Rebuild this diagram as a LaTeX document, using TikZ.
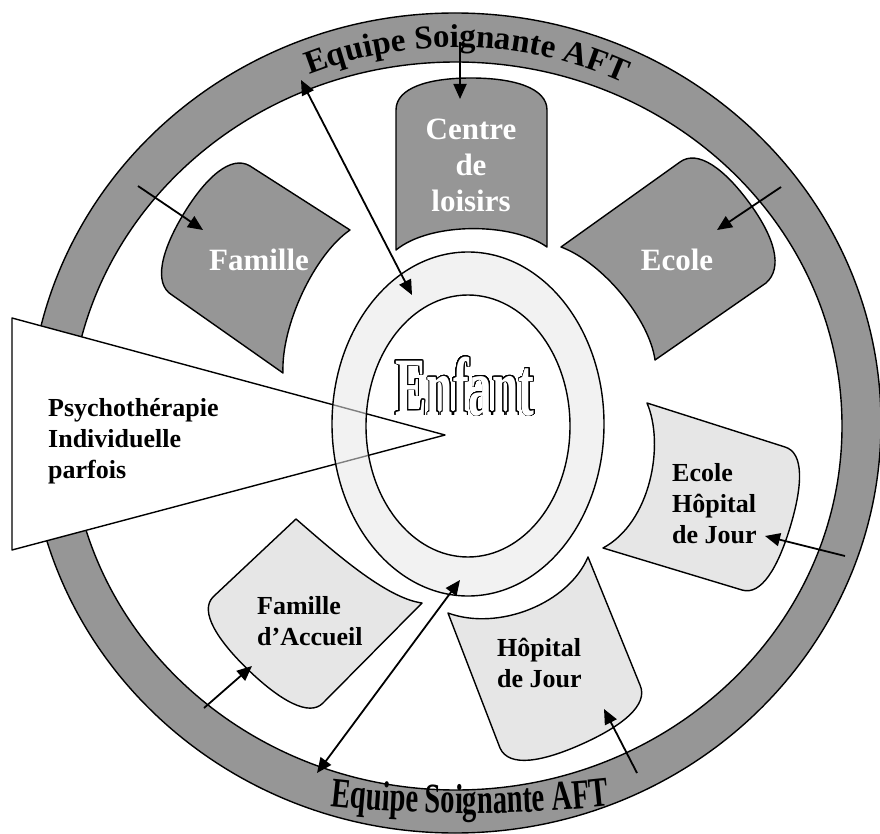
\documentclass[tikz,border=0pt]{standalone}
\usepackage{fontspec}
\setmainfont{Liberation Serif}
\newfontfamily\condserif{Liberation Serif}[FakeStretch=0.68]
\newfontfamily\enfantserif{Liberation Serif}[FakeStretch=0.57]
\usepackage{contour}
\contourlength{0.9pt}
\contournumber{32}
\usetikzlibrary{arrows.meta,decorations.text}
\definecolor{darkgr}{RGB}{150,150,150}
\definecolor{lightgr}{RGB}{230,230,230}
\definecolor{bandgr}{RGB}{232,232,232}
\begin{document}
\begin{tikzpicture}[x=1pt,y=-1pt,
  outl/.style={draw=black, line width=1.4pt, line join=round},
  darkpetal/.style={outl, fill=darkgr},
  lightpetal/.style={outl, fill=lightgr},
  darklabel/.style={text=white, font=\bfseries\fontsize{31}{36}\selectfont, align=center, inner sep=0pt},
  lightlabel/.style={text=black, font=\bfseries\fontsize{26}{31}\selectfont, align=left, inner sep=0pt},
  arr/.style={line width=1.8pt, -{Triangle[length=15pt,width=13pt]}},
  darr/.style={line width=1.8pt, {Triangle[length=15pt,width=13pt]}-{Triangle[length=15pt,width=13pt]}},
]
\useasboundingbox (0,0) rectangle (880,834);

% outer ring
\fill[darkgr, even odd rule] (455,423) ellipse[x radius=426, y radius=410]
  (456,426) ellipse[x radius=386, y radius=364];
\draw[outl] (455,423) ellipse[x radius=426, y radius=410];
\draw[outl] (456,426) ellipse[x radius=386, y radius=364];

% ring texts
\path[decorate, decoration={text along path, text align=center,
  text={|\bfseries\fontsize{33}{33}\selectfont|Equipe Soignante AFT}}]
  (457,424) ++(236.5:392 and 377) arc[start angle=236.5, end angle=306.5, x radius=392, y radius=377];
\path[decorate, decoration={text along path, text align=center,
  text={|\condserif\bfseries\fontsize{42}{42}\selectfont|Equipe Soignante AFT}}]
  (300,802) .. controls (400,817) and (540,817) .. (640,802);

% petals
\draw[darkpetal] (396,250) -- (396,110) .. controls (396,88) and (428,78) .. (471,78)
  .. controls (514,78) and (547,88) .. (547,110) -- (547,247)
  .. controls (512,222) and (430,222) .. (396,250) -- cycle;
\draw[darkpetal] (283,373) -- (172,295) .. controls (153.2,283.6) and (161.3,250.7) .. (183.6,213.9)
  .. controls (205.9,177.1) and (231.2,154.6) .. (250,166) -- (350,230)
  .. controls (314.4,254.4) and (280.9,325.8) .. (283,373) -- cycle;
\draw[darkpetal] (561,247) -- (680,162) .. controls (697.8,149.1) and (724.6,168.9) .. (749.9,203.7)
  .. controls (775.2,238.5) and (783,268) .. (766,283) -- (655,360)
  .. controls (649.3,318.8) and (602.3,262.3) .. (561,247) -- cycle;
\draw[lightpetal] (647,403) -- (785,447) .. controls (804.2,452.8) and (802.7,485.4) .. (790.3,526.6)
  .. controls (777.9,567.8) and (761.2,595.8) .. (742,590) -- (603,548)
  .. controls (650.4,522.7) and (665,445) .. (647,403) -- cycle;
\draw[lightpetal] (588,557) -- (640,685) .. controls (649,705.1) and (621.5,726.3) .. (582.3,743.9)
  .. controls (543.1,761.5) and (509,768.1) .. (500,748) -- (448,613)
  .. controls (498.4,631.5) and (568.4,603.5) .. (588,557) -- cycle;
\draw[lightpetal] (422,603) -- (323,703) .. controls (309.1,717.4) and (279.6,700) .. (248.6,670.2)
  .. controls (217.6,640.4) and (199.1,611.4) .. (213,597) -- (296,519)
  .. controls (332,550) and (385,598) .. (422,603) -- cycle;

% triangle
\draw[outl, fill=white] (12,318) -- (445,435) -- (12,550) -- cycle;

% central ellipses
\fill[bandgr, fill opacity=0.55, even odd rule] (468,424) ellipse[x radius=136, y radius=172]
  (468,426) ellipse[x radius=102, y radius=131];
\draw[outl] (468,424) ellipse[x radius=136, y radius=172];
\draw[outl] (468,426) ellipse[x radius=102, y radius=131];

% labels
\node[darklabel] (centre) at (471,165.5) {Centre\\de\\loisirs};
\node[darklabel, anchor=base] (famille) at (259,270) {Famille};
\node[darklabel, anchor=base] (ecole) at (677,270) {Ecole};
\node[lightlabel, anchor=west] (ecolehj) at (672,503.5) {Ecole\\Hôpital\\de Jour};
\node[lightlabel, anchor=west] (hopital) at (497,663) {Hôpital\\de Jour};
\node[lightlabel, anchor=west] (accueil) at (257,621) {Famille\\d’Accueil};
\node[lightlabel, anchor=west] (psy) at (48,441.5) {Psychothérapie\\Individuelle\\parfois};
\node[anchor=base, inner sep=0pt] (enfant) at (465,415)
  {\enfantserif\bfseries\fontsize{83}{83}\selectfont\color{white}\contour{black}{Enfant}};

% arrow end points
\coordinate (s1) at (460,42);   \coordinate (e1) at (460,99);
\coordinate (s2) at (301,80);   \coordinate (e2) at (412,295);
\coordinate (s3) at (138,186);  \coordinate (e3) at (203,230);
\coordinate (s4) at (781,187);  \coordinate (e4) at (717,230);
\coordinate (s5) at (845,556);  \coordinate (e5) at (765,536);
\coordinate (s6) at (637,773);  \coordinate (e6) at (604,709);
\coordinate (s7) at (204,708);  \coordinate (e7) at (252,666);
\coordinate (s8) at (317,773);  \coordinate (e8) at (460,580);

\draw[arr] (s1) -- (e1);
\draw[darr] (s2) -- (e2);
\draw[arr] (s3) -- (e3);
\draw[arr] (s4) -- (e4);
\draw[arr] (s5) -- (e5);
\draw[arr] (s6) -- (e6);
\draw[arr] (s7) -- (e7);
\draw[darr] (s8) -- (e8);
\end{tikzpicture}
\end{document}
